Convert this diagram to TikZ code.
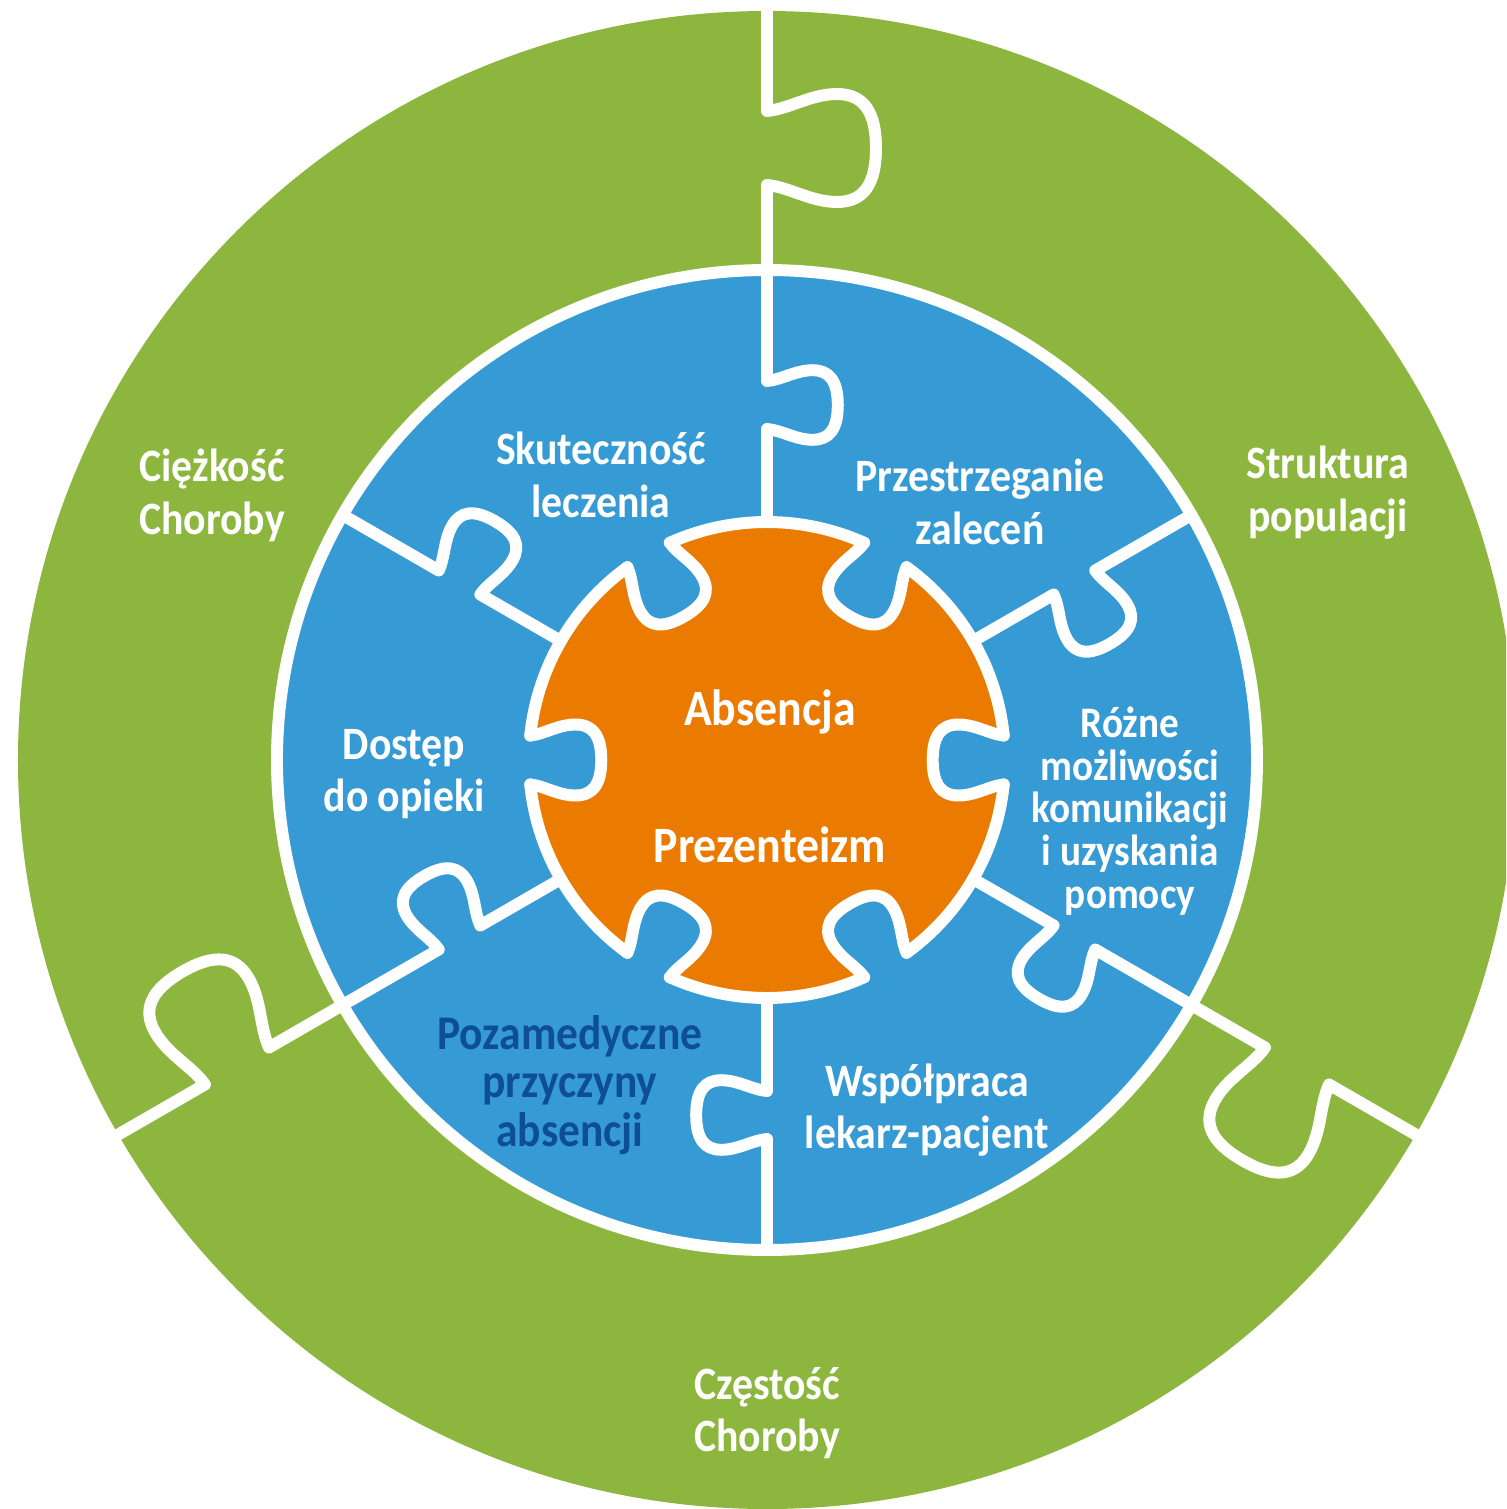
\documentclass[tikz,border=0pt]{standalone}
\usepackage{fontspec}
\setmainfont{Carlito}[FakeStretch=0.9]
\definecolor{greenring}{RGB}{141,182,63}
\definecolor{bluering}{RGB}{54,154,212}
\definecolor{orangecore}{RGB}{235,123,0}
\definecolor{navytext}{RGB}{14,78,150}
\begin{document}
\begin{tikzpicture}[line cap=round, line join=round,
  cut/.style={white, line width=3.4pt},
  lbl/.style={white, align=center, inner sep=0pt, font=\bfseries\fontsize{13.2}{15}\selectfont}]
\clip (-7.67,-7.49) rectangle (7.39,7.60);
\fill[greenring] (0,0) circle (7.49);
\fill[bluering] (0,0) circle (4.90);
\fill[orangecore] (0,0) circle (2.38);
\foreach \a in {0,60,...,300} % blue tabs cut into the orange piece
\fill[bluering, rotate=\a] (2.5,-0.245) -- (2.367,-0.245) .. controls (2.233,-0.257) and (2.086,-0.355) .. (1.915,-0.355) .. controls (1.743,-0.355) and (1.657,-0.245) .. (1.657,0) .. controls (1.657,0.245) and (1.743,0.355) .. (1.915,0.355) .. controls (2.086,0.355) and (2.233,0.257) .. (2.367,0.245) -- (2.5,0.245) -- cycle;
\draw[cut] (0,0) circle (4.90);
\foreach \a in {0,60,...,300} % outline of the orange piece
{
\draw[cut] (\a+5.9:2.38) arc[start angle=\a+5.9, end angle=\a+54.1, radius=2.38];
\draw[cut, rotate=\a] (2.367,-0.245) .. controls (2.233,-0.257) and (2.086,-0.355) .. (1.915,-0.355) .. controls (1.743,-0.355) and (1.657,-0.245) .. (1.657,0) .. controls (1.657,0.245) and (1.743,0.355) .. (1.915,0.355) .. controls (2.086,0.355) and (2.233,0.257) .. (2.367,0.245);
}
\foreach \a in {30,90,...,330} % edit here for the blue cuts
\draw[cut, rotate=\a] (2.38,0) -- (3.31,0) .. controls (3.298,-0.144) and (3.202,-0.288) .. (3.202,-0.456) .. controls (3.202,-0.624) and (3.31,-0.708) .. (3.55,-0.708) .. controls (3.79,-0.708) and (3.898,-0.624) .. (3.898,-0.456) .. controls (3.898,-0.288) and (3.802,-0.144) .. (3.79,0) -- (4.90,0);
\foreach \a in {90,210,330} % edit here for the green cuts
\draw[cut, rotate=\a] (4.90,0) -- (5.75,0) .. controls (5.73,-0.22) and (5.58,-0.44) .. (5.58,-0.70) .. controls (5.58,-0.96) and (5.75,-1.09) .. (6.12,-1.09) .. controls (6.49,-1.09) and (6.66,-0.96) .. (6.66,-0.70) .. controls (6.66,-0.44) and (6.51,-0.22) .. (6.49,0) -- (7.7,0);
\foreach \n/\x/\y/\texto in {cie/-5.55/2.65/{Ciężkość\\Choroby},str/5.61/2.67/{Struktura\\populacji},cze/0/-6.53/{Częstość\\Choroby},sku/-1.66/2.85/{Skuteczność\\leczenia},prz/2.13/2.58/{Przestrzeganie\\zaleceń},dos/-3.63/-0.14/{Dostęp\\do opieki},wsp/1.60/-3.50/{Współpraca\\lekarz-pacjent}}
\node[lbl] (\n) at (\x,\y) {\texto};
\node[lbl, font=\bfseries\fontsize{12.4}{12.2}\selectfont] (roz) at (3.63,-0.51) {Różne\\możliwości\\komunikacji\\i uzyskania\\pomocy};
\node[lbl, navytext, font=\bfseries\fontsize{13.75}{13.7}\selectfont] (poz) at (-1.97,-3.25) {Pozamedyczne\\przyczyny\\absencji};
\node[lbl, font=\bfseries\fontsize{14.5}{16}\selectfont] (abs) at (0.03,0.48) {Absencja};
\node[lbl, font=\bfseries\fontsize{14.5}{16}\selectfont] (pre) at (0.03,-0.85) {Prezenteizm};
\end{tikzpicture}
\end{document}
